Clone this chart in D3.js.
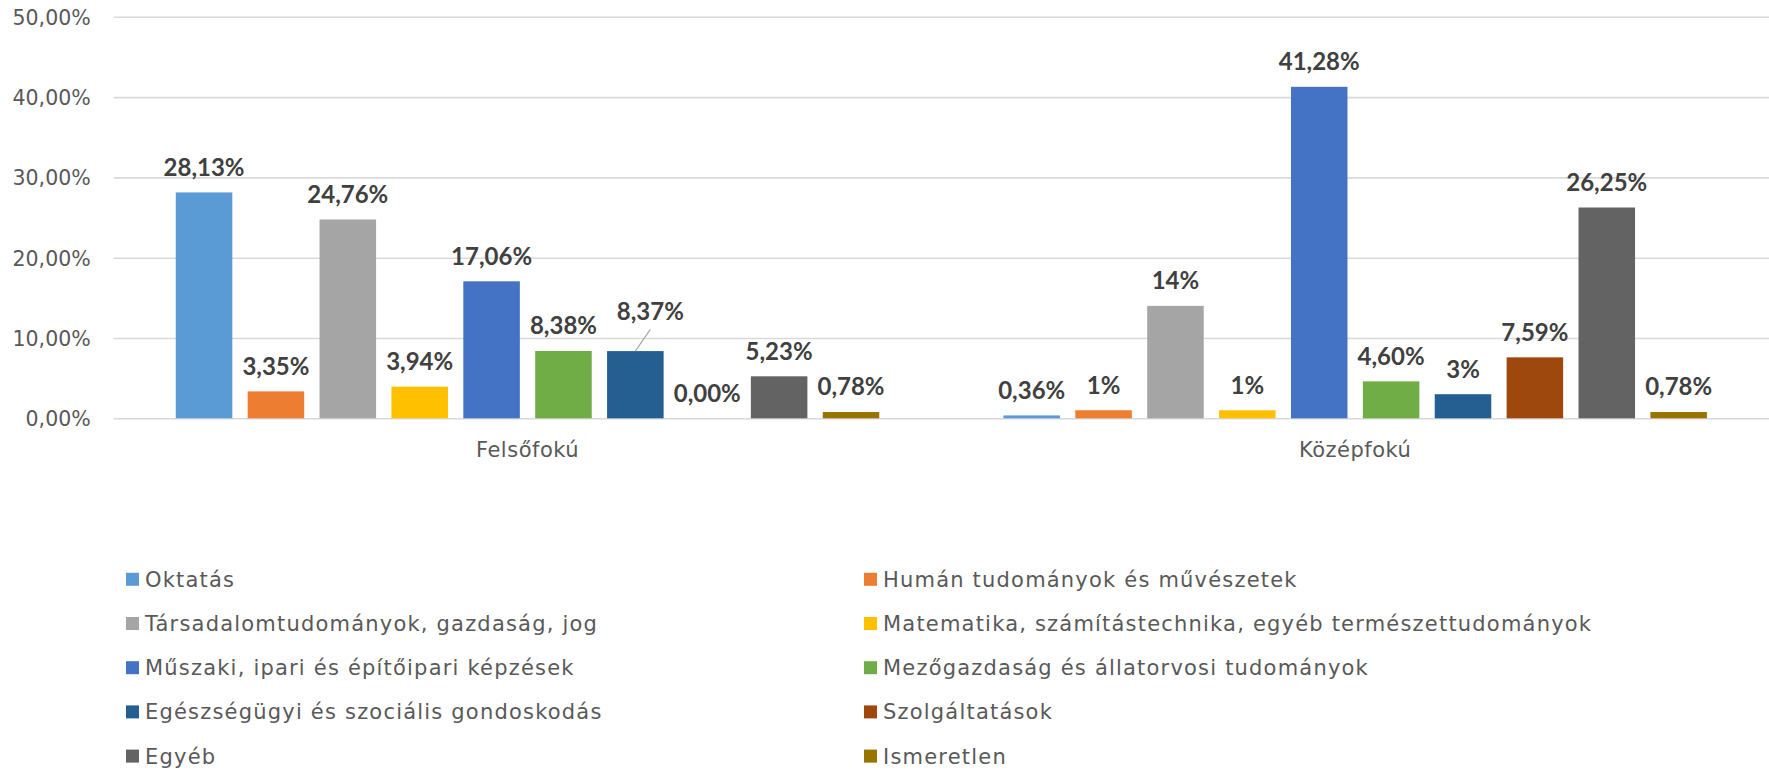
<!DOCTYPE html>
<html lang="hu">
<head>
<meta charset="utf-8">
<title>Végzettség szerinti megoszlás</title>
<script src="https://cdn.jsdelivr.net/npm/d3@7/dist/d3.min.js"></script>
<style>
  html, body { margin: 0; padding: 0; background: #ffffff; }
  svg { display: block; }
  .tick-label { font-family: "DejaVu Sans", sans-serif; font-size: 20.5px; fill: #595959; }
  .cat-label { font-family: "DejaVu Sans", sans-serif; font-size: 21px; fill: #595959; letter-spacing: 0.5px; }
  .legend-label { font-family: "DejaVu Sans", sans-serif; font-size: 21px; fill: #595959; letter-spacing: 1.2px; }
  .value-label { font-family: Lato, "DejaVu Sans", sans-serif; font-weight: 700; font-size: 24px; fill: #404040; }
</style>
</head>
<body>
<svg id="chart" width="1769" height="772"></svg>
<script>
// Képzési területek megoszlása végzettség szerint
const categories = ["Felsőfokú", "Középfokú"];

const seriesNames = [
  "Oktatás",
  "Humán tudományok és művészetek",
  "Társadalomtudományok, gazdaság, jog",
  "Matematika, számítástechnika, egyéb természettudományok",
  "Műszaki, ipari és építőipari képzések",
  "Mezőgazdaság és állatorvosi tudományok",
  "Egészségügyi és szociális gondoskodás",
  "Szolgáltatások",
  "Egyéb",
  "Ismeretlen"
];

const seriesColors = [
  "#5B9BD5", "#ED7D31", "#A5A5A5", "#FFC000", "#4472C4",
  "#70AD47", "#255E91", "#9E480E", "#636363", "#997300"
];

// Százalékos értékek kategóriánként (a sorozatok sorrendjében)
const felsofokuValues = [28.13, 3.35, 24.76, 3.94, 17.06, 8.38, 8.37, 0.00, 5.23, 0.78];
const kozepfokuValues = [0.36, 1, 14, 1, 41.28, 4.60, 3, 7.59, 26.25, 0.78];

// Adatfeliratok, ahogy a diagramon megjelennek
const felsofokuLabels = ["28,13%", "3,35%", "24,76%", "3,94%", "17,06%", "8,38%", "8,37%", "0,00%", "5,23%", "0,78%"];
const kozepfokuLabels = ["0,36%", "1%", "14%", "1%", "41,28%", "4,60%", "3%", "7,59%", "26,25%", "0,78%"];

const yTicks = [0, 10, 20, 30, 40, 50];
const yTickLabels = ["0,00%", "10,00%", "20,00%", "30,00%", "40,00%", "50,00%"];

const valuesByCategory = [felsofokuValues, kozepfokuValues];
const labelsByCategory = [felsofokuLabels, kozepfokuLabels];

const svg = d3.select("#chart");

const plot = { left: 113.7, right: 1769, top: 16.8, bottom: 418.3 };

const y = d3.scaleLinear().domain([0, 50]).range([plot.bottom, plot.top]);

const x0 = d3.scaleBand()
  .domain(categories)
  .range([plot.left, plot.right])
  .paddingInner(0.15)
  .paddingOuter(0.075);

const x1 = d3.scaleBand()
  .domain(seriesNames)
  .range([0, x0.bandwidth()])
  .paddingInner(0.2136)
  .paddingOuter(0);

// Vízszintes rácsvonalak és az y tengely feliratai
const yAxis = d3.axisLeft(y)
  .tickValues(yTicks)
  .tickSize(-(plot.right - plot.left))
  .tickPadding(23)
  .tickFormat((d, i) => yTickLabels[i]);

const yAxisG = svg.append("g")
  .attr("transform", `translate(${plot.left},0)`)
  .call(yAxis);
yAxisG.select(".domain").remove();
yAxisG.selectAll(".tick line")
  .attr("stroke", "#D9D9D9")
  .attr("stroke-width", 1.6);
yAxisG.selectAll(".tick text")
  .attr("class", "tick-label")
  .attr("dy", "0.36em")
  .attr("fill", null);

// Oszlopok
const groups = svg.append("g")
  .selectAll("g")
  .data(categories)
  .join("g")
  .attr("transform", d => `translate(${x0(d)},0)`);

const barData = (cat, ci) => seriesNames.map((s, si) => ({
  series: s,
  si,
  value: valuesByCategory[ci][si],
  label: labelsByCategory[ci][si]
}));

groups.selectAll("rect")
  .data((d, ci) => barData(d, ci))
  .join("rect")
  .attr("x", d => x1(d.series))
  .attr("width", x1.bandwidth())
  .attr("y", d => y(d.value))
  .attr("height", d => y(0) - y(d.value))
  .attr("fill", d => seriesColors[d.si]);

// Adatfeliratok; az átfedő feliratot arrébb toljuk és vezetővonallal kötjük az oszlophoz
const labelNudge = { "Felsőfokú|Egészségügyi és szociális gondoskodás": { dx: 15, dy: -14 } };
const labelGap = 16.7;

groups.each(function (cat, ci) {
  const g = d3.select(this);
  barData(cat, ci).forEach(d => {
    const cx = x1(d.series) + x1.bandwidth() / 2;
    const top = y(d.value);
    const nudge = labelNudge[cat + "|" + d.series] || { dx: 0, dy: 0 };
    const lx = cx + nudge.dx;
    const ly = top - labelGap + nudge.dy;
    if (nudge.dx || nudge.dy) {
      g.append("line")
        .attr("x1", cx).attr("y1", top)
        .attr("x2", lx).attr("y2", ly + 9)
        .attr("stroke", "#A6A6A6")
        .attr("stroke-width", 1.2);
    }
    g.append("text")
      .attr("class", "value-label")
      .attr("x", lx)
      .attr("y", ly)
      .attr("text-anchor", "middle")
      .text(d.label);
  });
});

// Kategóriafeliratok
const xAxis = d3.axisBottom(x0).tickSize(0).tickPadding(0);
const xAxisG = svg.append("g")
  .attr("transform", `translate(0,${plot.bottom})`)
  .call(xAxis);
xAxisG.select(".domain").remove();
xAxisG.selectAll(".tick text")
  .attr("class", "cat-label")
  .attr("fill", null)
  .attr("dy", null)
  .attr("y", 39);

// Jelmagyarázat két oszlopban
const legendCols = [126, 864];
const legendRow0 = 579.3;
const legendRowStep = 44.2;
const sw = 13;

const legend = svg.append("g")
  .selectAll("g")
  .data(seriesNames)
  .join("g")
  .attr("transform", (d, i) => `translate(${legendCols[i % 2]},${legendRow0 + Math.floor(i / 2) * legendRowStep})`);

legend.append("rect")
  .attr("x", 0)
  .attr("y", -sw / 2)
  .attr("width", sw)
  .attr("height", sw)
  .attr("fill", (d, i) => seriesColors[i]);

legend.append("text")
  .attr("class", "legend-label")
  .attr("x", sw + 6)
  .attr("y", 7.5)
  .text(d => d);
</script>
</body>
</html>
